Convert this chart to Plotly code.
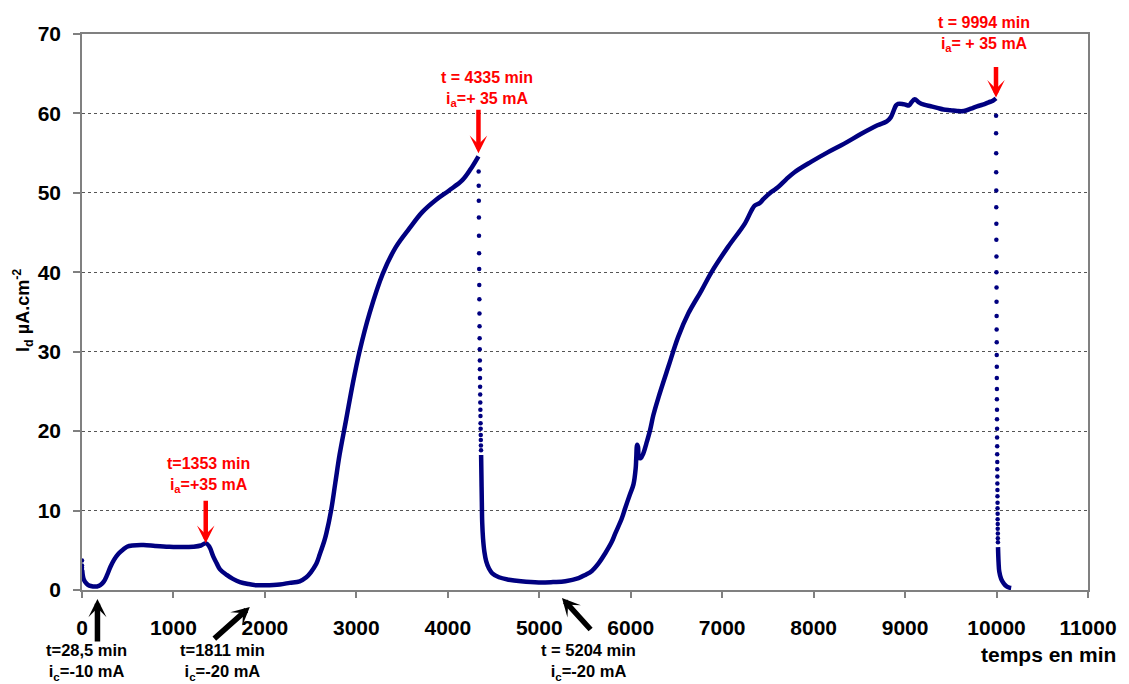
import plotly.graph_objects as go

# ---------------- data ----------------
# initial dots at t = 0
t_start = [0, 0, 0, 1]
i_start = [3.7, 3.1, 2.8, 2.5]

# continuous curve: first period (0 -> 4335 min)
t_seg1 = [3, 20, 50, 80, 120, 165, 200, 238, 275, 310, 350, 401, 450, 492, 550, 673, 800,
          950, 1100, 1218, 1300, 1353, 1390, 1436, 1473, 1509, 1582, 1650, 1727, 1820, 1909,
          2000, 2162, 2271, 2380, 2453, 2500, 2562, 2600, 2650, 2671, 2725, 2770, 2816, 2889,
          2961, 3034, 3143, 3288, 3433, 3578, 3723, 3869, 4014, 4159, 4250, 4335]
i_seg1 = [2.4, 1.3, 0.8, 0.55, 0.45, 0.45, 0.6, 1.05, 1.9, 2.9, 3.8, 4.6, 5.1, 5.45, 5.6, 5.65, 5.55,
          5.45, 5.4, 5.45, 5.6, 5.9, 5.5, 4.2, 3.35, 2.6, 1.9, 1.4, 1.0, 0.75, 0.6,
          0.6, 0.7, 0.9, 1.1, 1.6, 2.2, 3.3, 4.5, 6.2, 7.1, 10.1, 13.5, 17.0, 21.5,
          26.0, 30.0, 34.8, 39.8, 43.2, 45.5, 47.6, 49.1, 50.3, 51.6, 53.0, 54.6]

# dotted fall after anodic pulse at 4335 min
t_drop1 = [4337, 4338, 4339, 4340, 4341, 4342, 4343, 4344, 4345, 4346, 4347, 4348, 4349, 4350,
           4351, 4352, 4353, 4354, 4355, 4356, 4357, 4358, 4359, 4360, 4361, 4362, 4363]
i_drop1 = [52.7, 50.9, 49.0, 46.9, 44.6, 42.4, 40.4, 38.4, 36.6, 34.8, 33.2, 31.7, 30.3, 28.9,
           27.8, 26.7, 25.6, 24.6, 23.6, 22.7, 21.9, 21.0, 20.3, 19.5, 18.9, 18.2, 17.6]

# continuous curve: second period (4363 -> 9994 min)
t_seg2 = [4364, 4368, 4372, 4376, 4385, 4400, 4420, 4450, 4486, 4559, 4668, 4800, 4995, 5150,
          5285, 5430, 5503, 5575, 5648, 5720, 5790, 5830, 5902, 5939, 5990, 6030, 6054, 6060,
          6070, 6080, 6090, 6110, 6138, 6170, 6211, 6247, 6302, 6411, 6520, 6629, 6773, 6882,
          7064, 7246, 7355, 7409, 7450, 7536, 7609, 7700, 7791, 7971, 8153, 8335, 8516, 8698,
          8800, 8843, 8870, 8900, 8923, 8970, 9006, 9043, 9070, 9105, 9150, 9207, 9280, 9352,
          9420, 9497, 9570, 9642, 9720, 9787, 9850, 9915, 9960, 9994]
i_seg2 = [17.0, 14.0, 11.0, 8.5, 6.5, 4.8, 3.6, 2.7, 2.1, 1.6, 1.3, 1.1, 0.95, 1.0,
          1.1, 1.5, 1.9, 2.4, 3.35, 4.6, 6.0, 7.1, 9.0, 10.3, 12.0, 13.3, 15.3, 16.5,
          18.3, 18.0, 16.7, 16.6, 17.2, 18.4, 20.1, 22.0, 24.2, 28.1, 31.9, 34.8, 37.7, 40.0,
          43.2, 46.1, 48.4, 48.7, 49.2, 50.1, 50.7, 51.7, 52.6, 53.9, 55.1, 56.2, 57.4, 58.5,
          59.0, 59.5, 60.2, 61.0, 61.2, 61.2, 61.1, 61.0, 61.4, 61.8, 61.4, 61.1, 60.9, 60.7,
          60.5, 60.4, 60.3, 60.3, 60.6, 60.9, 61.1, 61.4, 61.6, 61.9]

# dotted fall after anodic pulse at 9994 min
t_drop2 = [9995, 9995, 9996, 9996, 9997, 9997, 9998, 9998, 9999, 9999, 10000, 10000, 10001,
           10001, 10002, 10002, 10003, 10003, 10004, 10004, 10005, 10005, 10006, 10006, 10007,
           10007, 10008, 10008, 10009, 10009, 10010, 10010, 10011, 10011, 10012, 10012, 10013,
           10013, 10014, 10014, 10015]
i_drop2 = [59.7, 57.5, 55.0, 52.6, 50.3, 48.2, 46.1, 44.1, 42.0, 40.0, 38.1, 36.3, 34.5,
           32.8, 31.2, 29.6, 28.1, 26.7, 25.3, 24.0, 22.7, 21.5, 20.3, 19.2, 18.1,
           17.1, 16.1, 15.2, 14.3, 13.4, 12.6, 11.8, 11.0, 10.3, 9.6, 8.9, 8.3,
           7.7, 7.1, 6.5, 6.0]

# tail after second fall
t_seg3 = [10016, 10022, 10030, 10050, 10080, 10110, 10140, 10160]
i_seg3 = [5.4, 3.5, 2.3, 1.4, 0.8, 0.45, 0.3, 0.25]

# events (time in min)
red_events_t = [1353, 4335, 9994]
red_events_i = [5.9, 55.0, 62.0]
red_labels = ["t=1353 min<br>i<sub>a</sub>=+35 mA",
              "t = 4335 min<br>i<sub>a</sub>=+ 35 mA",
              "t = 9994 min<br>i<sub>a</sub>= + 35 mA"]
black_events_t = [169, 1835, 5248]
black_labels = ["t=28,5 min<br>i<sub>c</sub>=-10 mA",
                "t=1811 min<br>i<sub>c</sub>=-20 mA",
                "t = 5204 min<br>i<sub>c</sub>=-20 mA"]

x_ticks = [0, 1000, 2000, 3000, 4000, 5000, 6000, 7000, 8000, 9000, 10000, 11000]
y_ticks = [0, 10, 20, 30, 40, 50, 60, 70]

# ---------------- layout helpers ----------------
W, H = 1129, 684
L, R, T, B = 81.5, 1091, 33.5, 590


def pxx(x):
    return (x - L) / (R - L)


def pxy(y):
    return (B - y) / (B - T)


NAVY = "#000080"
FONT = "Liberation Sans, Arial, sans-serif"

fig = go.Figure()
line_style = dict(color=NAVY, width=4.5)
for tx, iy in [(t_seg1, i_seg1), (t_seg2, i_seg2), (t_seg3, i_seg3)]:
    fig.add_trace(go.Scatter(x=tx, y=iy, mode="lines", line=line_style,
                             line_shape="spline", hoverinfo="skip", showlegend=False))
for tx, iy in [(t_start, i_start), (t_drop1, i_drop1), (t_drop2, i_drop2)]:
    fig.add_trace(go.Scatter(x=tx, y=iy, mode="markers",
                             marker=dict(color=NAVY, size=4.5, line=dict(width=0)),
                             hoverinfo="skip", showlegend=False))

annotations = []
# red arrows + labels
tail_offsets = [-44, -45, -32]
label_pos = [(208, 475), (488, 89), (987, 34)]
for tx, iy, ay, lab, (lx, ly) in zip(red_events_t, red_events_i, tail_offsets, red_labels, label_pos):
    annotations.append(dict(x=tx, y=iy, xref="x", yref="y", text="", showarrow=True,
                            ax=0, ay=ay, arrowcolor="#FF0000", arrowwidth=4.5,
                            arrowhead=3, arrowsize=0.65, standoff=0))
    annotations.append(dict(x=pxx(lx), y=pxy(ly), xref="paper", yref="paper", text="<b>" + lab + "</b>",
                            showarrow=False, xanchor="center", yanchor="middle",
                            font=dict(family=FONT, size=16, color="#FF0000")))
# black arrows + labels
black_tip_y = [599, 607, 598]
black_tail = [(0, 44), (-37, 33), (30, 33)]
black_label_pos = [(86, 662), (222, 662), (590, 662)]
for tx, ty, (ax, ay), lab, (lx, ly) in zip(black_events_t, black_tip_y, black_tail, black_labels, black_label_pos):
    annotations.append(dict(x=tx, y=pxy(ty), xref="x", yref="paper", text="", showarrow=True,
                            ax=ax, ay=ay, arrowcolor="#000000", arrowwidth=5.5,
                            arrowhead=3, arrowsize=0.55, standoff=0))
    annotations.append(dict(x=pxx(lx), y=pxy(ly), xref="paper", yref="paper", text="<b>" + lab + "</b>",
                            showarrow=False, xanchor="center", yanchor="middle",
                            font=dict(family=FONT, size=16.5, color="#000000")))
# axis titles
annotations.append(dict(x=pxx(22), y=pxy(310), xref="paper", yref="paper",
                        text="<b>I<sub>d</sub> µA.cm<sup>-2</sup></b>", textangle=-90,
                        showarrow=False, xanchor="center", yanchor="middle",
                        font=dict(family=FONT, size=18, color="#000000")))
annotations.append(dict(x=pxx(1121), y=pxy(655), xref="paper", yref="paper",
                        text="<b>temps en min</b>", showarrow=False,
                        xanchor="right", yanchor="middle",
                        font=dict(family=FONT, size=21, color="#000000")))

fig.update_layout(
    width=W, height=H,
    margin=dict(l=L, r=W - R, t=T, b=H - B, pad=0),
    paper_bgcolor="white", plot_bgcolor="white",
    font=dict(family=FONT, size=20, color="#000000"),
    annotations=annotations,
    showlegend=False,
)
fig.update_xaxes(range=[0, 11000], tickvals=x_ticks,
                 ticktext=["<b>%d</b>" % v for v in x_ticks],
                 showgrid=False, zeroline=False, showline=True, linecolor="#808080", linewidth=1.5,
                 mirror=True, ticks="outside", ticklen=6, tickcolor="#808080", tickwidth=1.5,
                 ticklabelstandoff=12, tickfont=dict(family=FONT, size=21, color="#000000"))
fig.update_yaxes(range=[0, 70], tickvals=y_ticks,
                 ticktext=["<b>%d</b>" % v for v in y_ticks],
                 showgrid=True, gridcolor="#555555", griddash="dot", gridwidth=1,
                 zeroline=False, showline=True, linecolor="#808080", linewidth=1.5,
                 mirror=True, ticks="outside", ticklen=7, tickcolor="#808080", tickwidth=1.5,
                 ticklabelstandoff=8, tickfont=dict(family=FONT, size=21, color="#000000"))

fig.write_html("out.html", config={"displayModeBar": False},
               post_script="document.body.style.margin='0';document.body.style.overflow='hidden';")
